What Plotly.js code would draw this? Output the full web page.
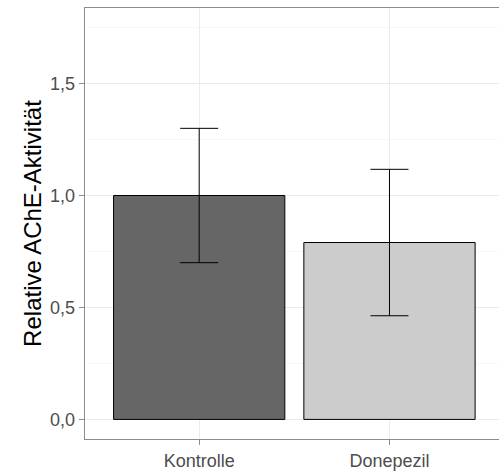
<!DOCTYPE html>
<html>
<head>
<meta charset="utf-8">
<script src="https://cdn.plot.ly/plotly-3.0.1.min.js"></script>
<style>html,body{margin:0;padding:0;background:#fff;}#chart{width:499px;height:473px;}</style>
</head>
<body>
<div id="chart"></div>
<script>
const categories = ["Kontrolle", "Donepezil"];
const means = [1.0, 0.79];
const errors = [0.30, 0.327];
const barColors = ["#666666", "#cccccc"];
const yTickVals = [0, 0.5, 1.0, 1.5];
const yTickText = ["0,0", "0,5", "1,0", "1,5"];

const xpos = categories.map((c, i) => i + 1);

const trace = {
  type: "bar",
  x: xpos,
  y: means,
  width: 0.9,
  marker: { color: barColors, line: { color: "#000000", width: 1 } },
  error_y: { type: "data", array: errors, visible: true, color: "#000000", thickness: 1, width: 19 },
  hoverinfo: "skip"
};

const font = "Liberation Sans, Arial, Helvetica, sans-serif";

const layout = {
  width: 499, height: 473,
  margin: { l: 85, r: 0, t: 8, b: 34, pad: 0 },
  paper_bgcolor: "#ffffff",
  plot_bgcolor: "#ffffff",
  showlegend: false,
  font: { family: font },
  xaxis: {
    range: [0.4, 2.5755],
    tickvals: xpos,
    ticktext: categories,
    showgrid: true, gridcolor: "#ebebeb", gridwidth: 1,
    zeroline: false,
    showline: true, mirror: true, linecolor: "#8c8c8c", linewidth: 1.3,
    ticks: "outside", ticklen: 5, tickcolor: "#8c8c8c", tickwidth: 1,
    tickfont: { size: 18, color: "#4d4d4d", family: font }
  },
  yaxis: {
    range: [-0.0875, 1.8375],
    tickvals: yTickVals,
    ticktext: yTickText,
    showgrid: true, gridcolor: "#ebebeb", gridwidth: 1,
    minor: { dtick: 0.25, tick0: 0.25, showgrid: true, gridcolor: "#f4f4f4", gridwidth: 0.6, ticks: "" },
    zeroline: false,
    showline: true, mirror: false, linecolor: "#8c8c8c", linewidth: 1.3,
    ticks: "outside", ticklen: 5, tickcolor: "#8c8c8c", tickwidth: 1,
    tickfont: { size: 18, color: "#4d4d4d", family: font },
    title: { text: "Relative AChE-Aktivität", font: { size: 24, color: "#000000", family: font }, standoff: 1 }
  }
};

Plotly.newPlot("chart", [trace], layout, { staticPlot: true, displayModeBar: false });
</script>
</body>
</html>
